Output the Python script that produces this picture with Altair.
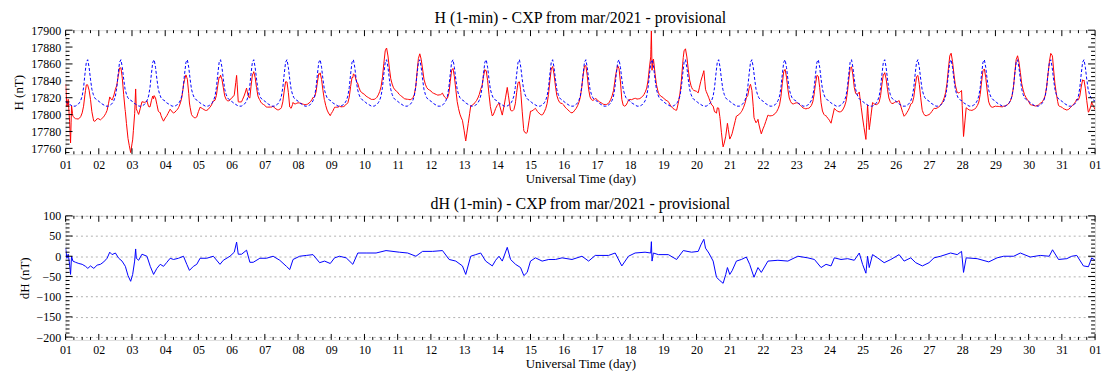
import json
import altair as alt
import numpy as np
import pandas as pd

# ---------------- data ----------------
# quiet-day (Sq) reference curve, one value per UT hour (same every day)
sq_hour = list(range(24))
sq_val = [17816, 17814, 17813, 17812, 17811, 17810, 17810, 17810, 17811, 17812,
          17814, 17817, 17822, 17832, 17848, 17862, 17865, 17856, 17842, 17830,
          17824, 17820, 17818, 17817]

# dH (nT): (day, value)
dh_points = [
    (1.00, 20), (1.04, -5), (1.08, 5), (1.12, -20), (1.15, -45), (1.18, 0), (1.22, -12),
    (1.30, -15), (1.40, -18), (1.50, -20), (1.60, -25), (1.67, -30), (1.75, -24), (1.85, -30),
    (1.95, -22), (2.05, -20), (2.15, -14), (2.25, -5), (2.33, 10), (2.40, 4), (2.50, 8),
    (2.60, -5), (2.70, -12), (2.80, -25), (2.88, -48), (2.96, -62), (3.02, -45), (3.08, -12),
    (3.11, 18), (3.13, -5), (3.20, -10), (3.30, 5), (3.45, 0), (3.55, -25), (3.65, -45),
    (3.75, -30), (3.85, -20), (3.95, -25), (4.05, -15), (4.15, -5), (4.25, -8), (4.40, -5),
    (4.55, 0), (4.65, -20), (4.73, -35), (4.85, -25), (4.95, -20), (5.05, -5), (5.25, -5),
    (5.45, 0), (5.65, -20), (5.75, -10), (5.95, 0), (6.08, 10), (6.15, 35), (6.20, 5),
    (6.30, 5), (6.45, 15), (6.55, -15), (6.65, -15), (6.85, -5), (7.05, -5), (7.25, 0),
    (7.45, -10), (7.65, -25), (7.75, -33), (7.85, -8), (8.05, 0), (8.25, 2), (8.45, 4),
    (8.65, -16), (8.80, -12), (8.97, -18), (9.10, -4), (9.25, 0), (9.45, -4), (9.65, -20),
    (9.80, 8), (10.05, 8), (10.35, 8), (10.65, 14), (11.05, 10), (11.30, 8), (11.55, 0),
    (11.75, 12), (12.05, 12), (12.35, 14), (12.55, -8), (12.75, -12), (12.95, -24),
    (13.05, -45), (13.20, 0), (13.35, 4), (13.50, 8), (13.65, -12), (13.85, -24), (13.95, -10),
    (14.05, 0), (14.15, -12), (14.30, 22), (14.40, -8), (14.55, -20), (14.70, -28),
    (14.80, -48), (14.90, -40), (15.00, -12), (15.15, -4), (15.35, -12), (15.55, -8),
    (15.75, -8), (15.95, -4), (16.25, -8), (16.55, 0), (16.75, -12), (16.95, 2), (17.35, 2),
    (17.55, 8), (17.75, -24), (17.95, 0), (18.15, 8), (18.45, 10), (18.62, 8), (18.64, 36),
    (18.66, -12), (18.70, 8), (18.85, 4), (19.15, 4), (19.40, -8), (19.60, 14), (19.85, 10),
    (20.05, 12), (20.13, 28), (20.22, 42), (20.27, 20), (20.37, 8), (20.50, -12), (20.60, -52),
    (20.70, -60), (20.80, -67), (20.88, -45), (20.93, -28), (21.00, -45), (21.07, -36),
    (21.20, -12), (21.35, -8), (21.50, -2), (21.60, -20), (21.73, -52), (21.85, -28),
    (21.95, -40), (22.15, -12), (22.45, -10), (22.75, -12), (23.05, 0), (23.35, -4),
    (23.55, -8), (23.75, -28), (23.90, -20), (24.05, -24), (24.15, -4), (24.35, -8),
    (24.55, -6), (24.75, -10), (24.90, 8), (25.00, -20), (25.10, -42), (25.15, 0),
    (25.20, -28), (25.30, 4), (25.45, -4), (25.65, -16), (25.85, -8), (26.10, 4),
    (26.25, -12), (26.45, -4), (26.60, -16), (26.80, -24), (27.00, -16), (27.15, -4),
    (27.35, 0), (27.65, 8), (27.85, 4), (27.98, 12), (28.04, -40), (28.12, -4), (28.45, -6),
    (28.80, -14), (29.05, -4), (29.25, 0), (29.55, 0), (29.75, 8), (30.05, -2), (30.35, 2),
    (30.62, 0), (30.72, 16), (30.90, -8), (31.15, -6), (31.30, 0), (31.45, 2), (31.65, -24),
    (31.80, -26), (31.90, -4), (32.00, -10),
]

day_labels = ["01", "02", "03", "04", "05", "06", "07", "08", "09", "10", "11", "12",
              "13", "14", "15", "16", "17", "18", "19", "20", "21", "22", "23", "24",
              "25", "26", "27", "28", "29", "30", "31", "01"]
h_ticks = [17760, 17780, 17800, 17820, 17840, 17860, 17880, 17900]
dh_ticks = [-200, -150, -100, -50, 0, 50, 100]

# ---------------- build tables ----------------
dh_day = np.array([p[0] for p in dh_points])
dh_val = np.array([p[1] for p in dh_points], dtype=float)

n_days = 31
hours = np.arange(n_days * 24 + 1)
sq_t = 1 + hours / 24.0
sq_series = np.array([sq_val[h % 24] for h in hours], dtype=float)
df_sq = pd.DataFrame({"t": sq_t, "v": sq_series})

# H = quiet curve + dH
h_t = np.unique(np.concatenate([sq_t, dh_day]))
prof_h = np.array(sq_hour + [24], dtype=float)
prof_v = np.array(sq_val + [sq_val[0]], dtype=float)
h_sq = np.interp(((h_t - 1) * 24) % 24, prof_h, prof_v)
h_dh = np.interp(h_t, dh_day, dh_val)
df_h = pd.DataFrame({"t": h_t, "v": h_sq + h_dh})
df_dh = pd.DataFrame({"t": dh_day, "v": dh_val})

# ---------------- style ----------------
W, H1, H2 = 1037, 125, 125
FONT = "Liberation Serif"
label_expr = json.dumps(day_labels) + "[datum.value - 1]"


def x_enc():
    return alt.X("t:Q", scale=alt.Scale(domain=[1, 32], nice=False, zero=False),
                 axis=alt.Axis(values=list(range(1, 33)), labelExpr=label_expr,
                               title="Universal Time (day)", ticks=False, domain=False,
                               grid=False, labelFlush=False, labelOverlap=False,
                               labelPadding=5, titlePadding=2,
                               labelFont=FONT, labelFontSize=12, labelColor="black",
                               titleFont=FONT, titleFontSize=13, titleFontWeight="normal",
                               titleColor="black"))


def y_enc(domain, vals, title, grid):
    return alt.Y("v:Q", scale=alt.Scale(domain=domain, nice=False, zero=False),
                 axis=alt.Axis(values=vals, title=title, format="d", ticks=False,
                               domain=False, grid=grid, gridDash=[2, 3],
                               gridColor="#b0b0b0", gridWidth=1, labelFlush=False,
                               labelOverlap=False, labelPadding=5, titlePadding=5,
                               labelFont=FONT, labelFontSize=12, labelColor="black",
                               titleFont=FONT, titleFontSize=13,
                               titleFontWeight="normal", titleColor="black"))


def tick_layers(H, yenc, ymaj, ymin):
    layers = []
    day_major = pd.DataFrame({"t": np.arange(1, 33, 1.0)})
    day_minor = pd.DataFrame({"t": [d + f for d in range(1, 32) for f in (0.25, 0.5, 0.75)]})
    for df, ln in ((day_major, 6), (day_minor, 3)):
        for y0, y1 in ((H, H - ln), (0, ln)):
            layers.append(alt.Chart(df).mark_rule(color="black", strokeWidth=1).encode(
                x=x_enc(), y=alt.value(y0), y2=alt.value(y1)))
    for vals, ln in ((ymaj, 7), (ymin, 4)):
        df = pd.DataFrame({"v": vals})
        for x0, x1 in ((0, ln), (W, W - ln)):
            layers.append(alt.Chart(df).mark_rule(color="black", strokeWidth=1).encode(
                y=yenc, x=alt.value(x0), x2=alt.value(x1)))
    return layers


def title(text):
    return alt.Title(text, font=FONT, fontSize=16, fontWeight="normal", color="black",
                     offset=-2, anchor="middle", frame="group")


# ---------------- top panel ----------------
yt = y_enc([17753, 17900], h_ticks, "H (nT)", False)
red = alt.Chart(df_h).mark_line(color="#ff0000", strokeWidth=1, clip=True).encode(
    x=x_enc(), y=yt)
blue = alt.Chart(df_sq).mark_line(color="#0000ff", strokeWidth=1, strokeDash=[3, 2],
                                  clip=True).encode(x=x_enc(), y=yt)
top_minor = [v for v in range(17755, 17900, 5) if v % 20 != 0]
top = alt.layer(red, blue, *tick_layers(H1, yt, h_ticks, top_minor)).properties(
    width=W, height=H1, title=title("H (1-min) - CXP from mar/2021 - provisional"))

# ---------------- bottom panel ----------------
yb = y_enc([-207, 100], dh_ticks, "dH (nT)", True)
dh_line = alt.Chart(df_dh).mark_line(color="#0000ff", strokeWidth=1, clip=True).encode(
    x=x_enc(), y=yb)
bot_minor = [v for v in range(-200, 100, 10) if v % 50 != 0]
bottom = alt.layer(dh_line, *tick_layers(H2, yb, dh_ticks, bot_minor)).properties(
    width=W, height=H2, title=title("dH (1-min) - CXP from mar/2021 - provisional"))

chart = alt.vconcat(top, bottom, spacing=9).properties(
    padding={"left": 4, "top": 0, "right": 0, "bottom": 0}
).configure_view(stroke="black", strokeWidth=1).configure(background="white")

chart.save("out.html", embed_options={"renderer": "svg", "actions": False})
